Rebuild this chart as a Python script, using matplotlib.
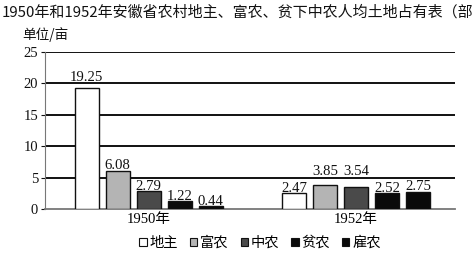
import matplotlib
matplotlib.use("Agg")
import matplotlib.pyplot as plt
from matplotlib.patches import Patch
import numpy as np

years = ["1950年", "1952年"]
classes = ["地主", "富农", "中农", "贫农", "雇农"]
v1950 = [19.25, 6.08, 2.79, 1.22, 0.44]
v1952 = [2.47, 3.85, 3.54, 2.52, 2.75]
colors = ["#ffffff", "#b4b4b4", "#4a4a4a", "#0a0a0a", "#0a0a0a"]
yticks = [0, 5, 10, 15, 20, 25]

CJK = ["Noto Sans CJK SC", "DejaVu Sans"]
SERIF = ["Liberation Serif", "Noto Sans CJK SC"]

fig = plt.figure(figsize=(4.72, 2.56), dpi=100)
W, H = 472, 256
ax = fig.add_axes([45 / W, (H - 209) / H, 410 / W, 157 / H])

group_x = np.array([0.0, 6.7])
offsets = np.arange(5) - 2
width = 0.78
data = [v1950, v1952]


def label_base(v):
    base = v + 0.25
    for t in yticks[1:]:
        if base - 0.2 < t < base + 1.75:
            base = t + 0.4
    return base


for g, vals in enumerate(data):
    for i, v in enumerate(vals):
        x = group_x[g] + offsets[i]
        ax.bar(x, v, width=width, color=colors[i], edgecolor="#111111",
               linewidth=1.0, zorder=3)
        ax.text(x, label_base(v), f"{v:.2f}", ha="center", va="baseline",
                fontsize=10.6, family=SERIF, color="#111111", zorder=4)

ax.set_xlim(-3.35, 6.7 + 2 + 1.19)
ax.set_ylim(0, 25)
ax.set_yticks(yticks)
ax.set_yticklabels([str(t) for t in yticks], family=SERIF, fontsize=10.5)
ax.set_xticks(group_x)
ax.set_xticklabels(years, family=SERIF, fontsize=10.5)
ax.tick_params(axis="x", length=0, pad=3)
ax.tick_params(axis="y", length=3, width=0.8, pad=2, colors="#111111")
for t in yticks[1:]:
    ax.axhline(t, color="#111111", linewidth=1.4, zorder=1)
for s in ["top", "right"]:
    ax.spines[s].set_visible(False)
ax.spines["left"].set_color("#777777")
ax.spines["bottom"].set_color("#777777")
ax.spines["bottom"].set_linewidth(1.3)

fig.text(2 / W, 1 - 12 / H, "1950年和1952年安徽省农村地主、富农、贫下中农人均土地占有表（部分）",
         fontsize=10.8, family=CJK, va="center", ha="left", color="#111111")
fig.text(22 / W, 1 - 35 / H, "单位/亩", fontsize=9.8, family=CJK, va="center",
         ha="left", color="#111111")

handles = [Patch(facecolor=c, edgecolor="#111111", linewidth=0.8) for c in colors]
fig.legend(handles, classes, loc="center", bbox_to_anchor=(260 / W, 1 - 243 / H),
           ncol=5, frameon=False, prop={"family": CJK, "size": 10.3},
           handlelength=0.5, handleheight=0.5, handletextpad=0.2,
           columnspacing=0.85, borderpad=0)

fig.savefig("out.png", dpi=100)
